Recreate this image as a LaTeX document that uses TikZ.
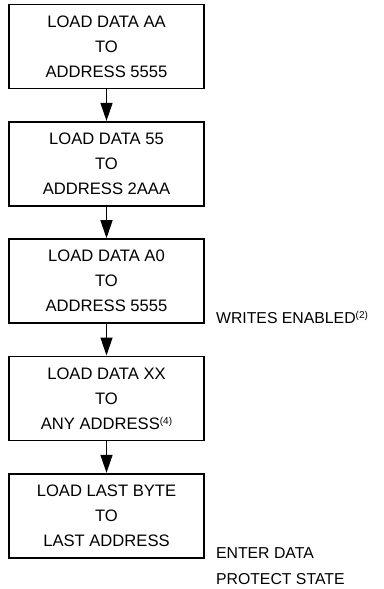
\documentclass[tikz,border=0pt]{standalone}
\usepackage{fontspec}
\setmainfont{Liberation Sans}
\usetikzlibrary{positioning,arrows.meta}
\newcommand{\noteref}[1]{\raisebox{5pt}{\fontsize{10}{10}\selectfont(#1)}}

\begin{document}
\begin{tikzpicture}[x=1pt, y=-1pt,
    stepbox/.style={draw, line width=1.8pt, rectangle, minimum width=195pt, minimum height=84pt, inner sep=0pt, align=center, font=\fontsize{16.6}{25}\selectfont},
    note/.style={inner sep=0pt, align=left, font=\fontsize{15.8}{26}\selectfont},
    flow/.style={line width=1.3pt, -{Triangle[length=18pt, width=12pt]}}
]
    \useasboundingbox (0,0) rectangle (383,589);

    \node [stepbox] (aa) at (106.5,46.5) {LOAD DATA AA\\TO\\ADDRESS 5555};
    \node [stepbox, below=31.5pt of aa] (fifty) {LOAD DATA 55\\TO\\ADDRESS 2AAA};
    \node [stepbox, below=31.5pt of fifty] (azero) {LOAD DATA A0\\TO\\ADDRESS 5555};
    \node [stepbox, below=31.5pt of azero] (anyxx) {LOAD DATA XX\\TO\\ANY ADDRESS\noteref{4}};
    \node [stepbox, below=31.5pt of anyxx] (lastbyte) {LOAD LAST BYTE\\TO\\LAST ADDRESS};

    \node [note, anchor=base west] (enabled) at ([xshift=11pt, yshift=1pt]azero.south east) {WRITES ENABLED\noteref{2}};
    \node [note, anchor=north west] (protect) at ([xshift=11pt, yshift=11.3pt]lastbyte.south east) {ENTER DATA\\PROTECT STATE};

    \draw [flow] (aa) -- (fifty);
    \draw [flow] (fifty) -- (azero);
    \draw [flow] (azero) -- (anyxx);
    \draw [flow] (anyxx) -- (lastbyte);
\end{tikzpicture}
\end{document}
